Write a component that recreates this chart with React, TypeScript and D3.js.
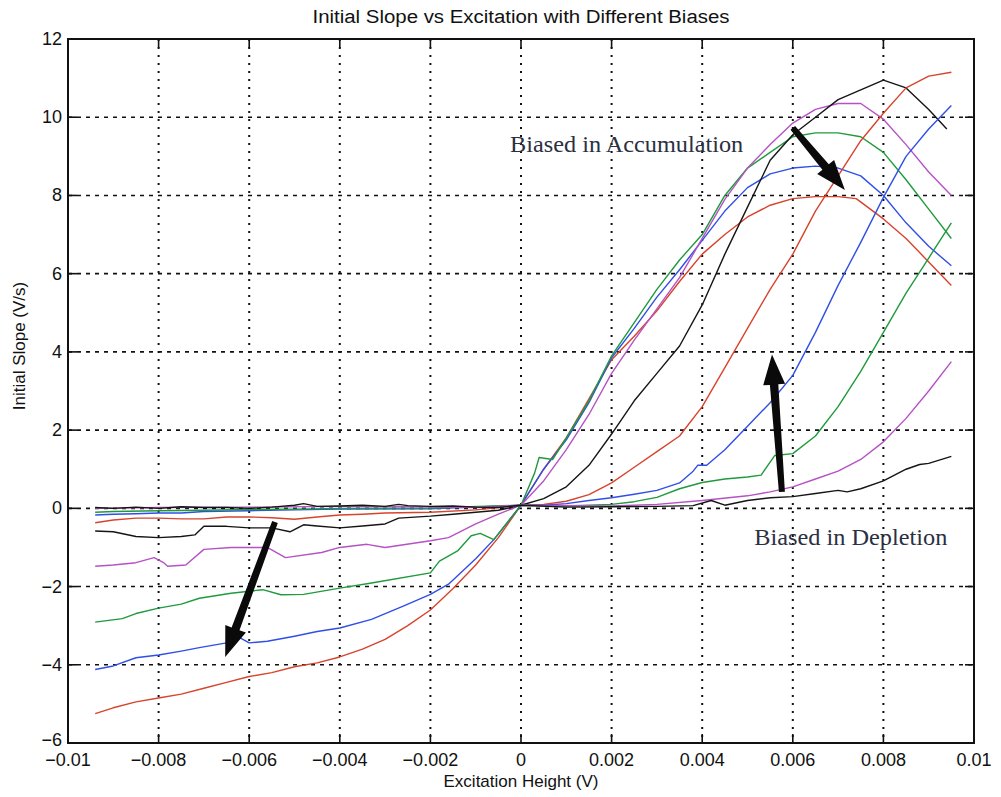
import React from "react";
import * as d3 from "d3";

type Pt = [number, number];

const title = "Initial Slope vs Excitation with Different Biases";
const xLabel = "Excitation Height (V)";
const yLabel = "Initial Slope (V/s)";
const xTicks = [-0.01, -0.008, -0.006, -0.004, -0.002, 0, 0.002, 0.004, 0.006, 0.008, 0.01];
const xTickLabels = ["\u22120.01", "\u22120.008", "\u22120.006", "\u22120.004", "\u22120.002", "0", "0.002", "0.004", "0.006", "0.008", "0.01"];
const yTicks = [-6, -4, -2, 0, 2, 4, 6, 8, 10, 12];
const yTickLabels = ["\u22126", "\u22124", "\u22122", "0", "2", "4", "6", "8", "10", "12"];

// Biased in accumulation
const redAcc: Pt[] = [[-0.0094,-5.25],[-0.009,-5.1],[-0.0085,-4.95],[-0.008,-4.85],[-0.0075,-4.75],[-0.007,-4.6],[-0.0065,-4.45],[-0.006,-4.3],[-0.0055,-4.2],[-0.005,-4.05],[-0.0045,-3.95],[-0.004,-3.8],[-0.0035,-3.6],[-0.003,-3.35],[-0.0025,-3.0],[-0.002,-2.6],[-0.0015,-2.05],[-0.001,-1.45],[-0.0005,-0.75],[0,0.08],[0.0005,1.0],[0.001,1.8],[0.0015,2.8],[0.002,3.8],[0.0025,4.4],[0.003,5.05],[0.0035,5.8],[0.004,6.5],[0.0045,7.0],[0.005,7.45],[0.0055,7.75],[0.006,7.92],[0.0065,7.97],[0.007,7.97],[0.0074,7.92],[0.008,7.4],[0.0085,6.9],[0.009,6.3],[0.0095,5.7]];
const blueAcc: Pt[] = [[-0.0094,-4.12],[-0.009,-4.03],[-0.0085,-3.82],[-0.008,-3.75],[-0.0075,-3.65],[-0.0071,-3.56],[-0.0065,-3.44],[-0.0062,-3.31],[-0.006,-3.44],[-0.0056,-3.4],[-0.005,-3.27],[-0.0045,-3.15],[-0.004,-3.06],[-0.0033,-2.84],[-0.0026,-2.5],[-0.002,-2.2],[-0.0016,-1.94],[-0.001,-1.29],[-0.0006,-0.8],[0,0.08],[0.0005,1.0],[0.001,1.75],[0.0015,2.7],[0.002,3.85],[0.0025,4.6],[0.003,5.4],[0.0035,6.1],[0.004,6.85],[0.0045,7.6],[0.005,8.2],[0.0055,8.55],[0.006,8.7],[0.0065,8.75],[0.007,8.7],[0.0075,8.5],[0.008,8.0],[0.0085,7.3],[0.009,6.7],[0.0095,6.2]];
const greenAcc: Pt[] = [[-0.0094,-2.91],[-0.0088,-2.82],[-0.0085,-2.69],[-0.008,-2.55],[-0.0075,-2.45],[-0.0071,-2.3],[-0.0064,-2.17],[-0.0057,-2.08],[-0.0053,-2.21],[-0.0048,-2.2],[-0.004,-2.04],[-0.0033,-1.91],[-0.002,-1.65],[-0.0018,-1.35],[-0.0014,-1.09],[-0.0011,-0.7],[-0.0009,-0.64],[-0.0006,-0.8],[0,0.08],[0.0003,0.9],[0.0004,1.3],[0.0007,1.25],[0.001,1.8],[0.0015,2.75],[0.002,3.9],[0.0025,4.75],[0.003,5.6],[0.0035,6.35],[0.004,7.0],[0.0045,8.0],[0.005,8.7],[0.0055,9.1],[0.006,9.5],[0.0065,9.6],[0.007,9.6],[0.0075,9.5],[0.008,9.1],[0.0085,8.4],[0.009,7.65],[0.0095,6.9]];
const magentaAcc: Pt[] = [[-0.0094,-1.48],[-0.009,-1.45],[-0.0085,-1.39],[-0.0081,-1.26],[-0.0079,-1.38],[-0.0078,-1.48],[-0.0074,-1.45],[-0.007,-1.05],[-0.0064,-1.0],[-0.0056,-1.0],[-0.0052,-1.26],[-0.0044,-1.13],[-0.004,-1.0],[-0.0034,-0.92],[-0.003,-1.0],[-0.002,-0.83],[-0.0016,-0.75],[-0.001,-0.4],[-0.0005,-0.15],[0,0.08],[0.0005,0.7],[0.001,1.5],[0.0015,2.4],[0.002,3.45],[0.0025,4.3],[0.003,5.1],[0.0035,5.9],[0.004,6.9],[0.0045,7.9],[0.005,8.7],[0.0055,9.3],[0.006,9.85],[0.0065,10.2],[0.007,10.35],[0.0075,10.35],[0.008,9.95],[0.0085,9.3],[0.009,8.6],[0.0095,8.0]];
const blackAcc: Pt[] = [[-0.0094,-0.58],[-0.009,-0.6],[-0.0085,-0.72],[-0.008,-0.75],[-0.0075,-0.72],[-0.0072,-0.68],[-0.007,-0.46],[-0.0065,-0.46],[-0.006,-0.5],[-0.0055,-0.5],[-0.0051,-0.6],[-0.0048,-0.42],[-0.0045,-0.45],[-0.004,-0.5],[-0.0035,-0.45],[-0.003,-0.4],[-0.0027,-0.25],[-0.002,-0.2],[-0.0015,-0.15],[-0.001,-0.1],[-0.0005,-0.05],[0,0.08],[0.0005,0.25],[0.001,0.55],[0.0015,1.1],[0.002,1.9],[0.0025,2.75],[0.003,3.45],[0.0035,4.15],[0.004,5.2],[0.0045,6.5],[0.005,7.7],[0.0055,8.9],[0.006,9.55],[0.0065,10.0],[0.007,10.45],[0.0075,10.7],[0.008,10.95],[0.0085,10.75],[0.009,10.2],[0.0094,9.7]];

// Biased in depletion
const redDep: Pt[] = [[-0.0094,-0.37],[-0.009,-0.3],[-0.0085,-0.25],[-0.008,-0.25],[-0.0075,-0.27],[-0.007,-0.27],[-0.0065,-0.22],[-0.006,-0.22],[-0.0055,-0.24],[-0.005,-0.28],[-0.0045,-0.22],[-0.004,-0.17],[-0.0035,-0.15],[-0.003,-0.12],[-0.002,-0.1],[-0.001,-0.04],[0,0.08],[0.0005,0.1],[0.001,0.18],[0.0015,0.35],[0.002,0.65],[0.0025,1.05],[0.003,1.45],[0.0035,1.85],[0.004,2.6],[0.0045,3.6],[0.005,4.6],[0.0055,5.6],[0.006,6.5],[0.0065,7.6],[0.007,8.5],[0.0075,9.4],[0.008,10.1],[0.0085,10.75],[0.009,11.05],[0.0095,11.15]];
const blueDep: Pt[] = [[-0.0094,-0.17],[-0.009,-0.15],[-0.0085,-0.14],[-0.008,-0.12],[-0.0075,-0.12],[-0.007,-0.08],[-0.006,-0.06],[-0.005,-0.04],[-0.004,-0.02],[-0.002,-0.01],[0,0.08],[0.0005,0.08],[0.001,0.12],[0.0015,0.2],[0.002,0.27],[0.0025,0.36],[0.003,0.46],[0.0035,0.65],[0.0038,0.95],[0.0039,1.1],[0.0041,1.1],[0.0045,1.5],[0.005,2.1],[0.0055,2.7],[0.006,3.4],[0.0065,4.5],[0.007,5.7],[0.0075,6.8],[0.008,7.95],[0.0085,9.0],[0.009,9.7],[0.0095,10.3]];
const greenDep: Pt[] = [[-0.0094,-0.1],[-0.009,-0.08],[-0.008,-0.06],[-0.007,-0.05],[-0.006,-0.03],[-0.005,-0.02],[-0.004,0.0],[-0.002,0.01],[0,0.08],[0.001,0.06],[0.002,0.1],[0.0025,0.17],[0.003,0.28],[0.0035,0.5],[0.004,0.66],[0.0045,0.75],[0.005,0.8],[0.0053,0.85],[0.0056,1.35],[0.006,1.4],[0.0065,1.85],[0.007,2.6],[0.0075,3.5],[0.008,4.5],[0.0085,5.5],[0.009,6.4],[0.0095,7.3]];
const magentaDep: Pt[] = [[-0.0094,0.0],[-0.008,0.02],[-0.006,0.03],[-0.004,0.05],[-0.002,0.04],[-0.001,0.02],[0,0.08],[0.002,0.06],[0.003,0.1],[0.004,0.2],[0.005,0.32],[0.0055,0.42],[0.006,0.55],[0.0065,0.75],[0.007,0.95],[0.0075,1.25],[0.008,1.7],[0.0085,2.3],[0.009,3.0],[0.0095,3.75]];
const blackDep: Pt[] = [[-0.0094,0.02],[-0.009,0.0],[-0.0085,0.03],[-0.008,0.0],[-0.0075,0.04],[-0.007,0.02],[-0.0065,0.02],[-0.006,0.0],[-0.0055,0.03],[-0.005,0.08],[-0.0048,0.12],[-0.0045,0.05],[-0.004,0.06],[-0.0035,0.08],[-0.003,0.05],[-0.0027,0.1],[-0.0025,0.07],[-0.002,0.05],[-0.0015,0.06],[-0.001,0.03],[-0.0005,0.02],[0,0.08],[0.001,0.03],[0.002,0.04],[0.003,0.05],[0.0038,0.07],[0.0042,0.2],[0.0045,0.08],[0.005,0.2],[0.0055,0.27],[0.006,0.3],[0.0065,0.38],[0.007,0.46],[0.0072,0.42],[0.0075,0.5],[0.008,0.7],[0.0085,1.0],[0.0088,1.12],[0.009,1.15],[0.0095,1.33]];

const seriesData: Pt[][] = [redAcc, blueAcc, greenAcc, magentaAcc, blackAcc, redDep, blueDep, greenDep, magentaDep, blackDep];
const seriesColors = ["#d8432c", "#2f4fe6", "#1f9a3c", "#b552c4", "#151515", "#d8432c", "#2f4fe6", "#1f9a3c", "#b552c4", "#151515"];

// annotation arrows: [tailX, tailY, tipX, tipY] in data units
const arrows: [number, number, number, number][] = [
  [0.006, 9.73, 0.00715, 8.14],
  [0.00576, 0.42, 0.00554, 3.93],
  [-0.00543, -0.35, -0.00653, -3.8],
];
// [text, x, y, width in px]
const annotations: [string, number, number, number][] = [
  ["Biased in Accumulation", -0.00024, 9.1, 233],
  ["Biased in Depletion", 0.00515, -0.95, 193],
];

const W = 1001, H = 797;
const L = 68, R = 974, T = 39, B = 743;

export default function App() {
  const x = d3.scaleLinear().domain([-0.01, 0.01]).range([L, R]);
  const y = d3.scaleLinear().domain([-6, 12]).range([B, T]);
  const line = d3.line<Pt>().x(d => x(d[0])).y(d => y(d[1]));

  const arrowPath = (a: [number, number, number, number]) => {
    const x0 = x(a[0]), y0 = y(a[1]), x1 = x(a[2]), y1 = y(a[3]);
    const dx = x1 - x0, dy = y1 - y0, len = Math.hypot(dx, dy);
    const ux = dx / len, uy = dy / len, nx = -uy, ny = ux;
    const hl = 30, hw = 11, sw0 = 3, sw1 = 4.2;
    const bx = x1 - ux * hl, by = y1 - uy * hl;
    const pts = [
      [x0 + nx * sw0, y0 + ny * sw0],
      [bx + nx * sw1, by + ny * sw1],
      [bx + nx * hw, by + ny * hw],
      [x1, y1],
      [bx - nx * hw, by - ny * hw],
      [bx - nx * sw1, by - ny * sw1],
      [x0 - nx * sw0, y0 - ny * sw0],
    ];
    return "M" + pts.map(p => p[0].toFixed(1) + "," + p[1].toFixed(1)).join("L") + "Z";
  };

  const font = "'Liberation Sans', Arial, Helvetica, sans-serif";

  return (
    <svg width={W} height={H} style={{ position: "absolute", left: 0, top: 0, background: "#fff" }}>
      <rect x={0} y={0} width={W} height={H} fill="#fff" />
      {/* grid */}
      {xTicks.slice(1, -1).map((t, i) => (
        <line key={"gx" + i} x1={x(t)} x2={x(t)} y1={T} y2={B} stroke="#111" strokeWidth={2} strokeDasharray="2,6" />
      ))}
      {yTicks.slice(1, -1).map((t, i) => (
        <line key={"gy" + i} x1={L} x2={R} y1={y(t)} y2={y(t)} stroke="#111" strokeWidth={1.6} strokeDasharray="4,5" />
      ))}
      {/* curves */}
      {seriesData.map((s, i) => (
        <path key={"s" + i} d={line(s) || ""} fill="none" stroke={seriesColors[i]} strokeWidth={1.4} strokeLinejoin="round" />
      ))}
      {/* ticks */}
      {xTicks.map((t, i) => (
        <g key={"tx" + i}>
          <line x1={x(t)} x2={x(t)} y1={B} y2={B - 9} stroke="#111" strokeWidth={1.6} />
          <line x1={x(t)} x2={x(t)} y1={T} y2={T + 9} stroke="#111" strokeWidth={1.6} />
          <text x={x(t)} y={B + 23} textAnchor="middle" fontFamily={font} fontSize={18} fill="#111">{xTickLabels[i]}</text>
        </g>
      ))}
      {yTicks.map((t, i) => (
        <g key={"ty" + i}>
          <line x1={L} x2={L + 9} y1={y(t)} y2={y(t)} stroke="#111" strokeWidth={1.6} />
          <line x1={R} x2={R - 9} y1={y(t)} y2={y(t)} stroke="#111" strokeWidth={1.6} />
          <text x={L - 6} y={y(t) + (t === -6 ? 3 : 6)} textAnchor="end" fontFamily={font} fontSize={18} fill="#111">{yTickLabels[i]}</text>
        </g>
      ))}
      <rect x={L} y={T} width={R - L} height={B - T} fill="none" stroke="#111" strokeWidth={2} />
      {/* arrows */}
      {arrows.map((a, i) => (
        <path key={"a" + i} d={arrowPath(a)} fill="#0a0a0a" />
      ))}
      {/* annotations */}
      {annotations.map((a, i) => (
        <text key={"n" + i} x={x(a[1])} y={y(a[2])} fontFamily="'Liberation Serif', 'Times New Roman', serif" fontSize={23}
          textLength={a[3]} lengthAdjust="spacingAndGlyphs" fill="#2a3042">{a[0]}</text>
      ))}
      {/* labels */}
      <text x={(L + R) / 2} y={23} textAnchor="middle" fontFamily={font} fontSize={18} textLength={417} lengthAdjust="spacingAndGlyphs" fill="#111">{title}</text>
      <text x={(L + R) / 2} y={787} textAnchor="middle" fontFamily={font} fontSize={17} fill="#111">{xLabel}</text>
      <text transform={`translate(25,${(T + B) / 2 - 45}) rotate(-90)`} textAnchor="middle" fontFamily={font} fontSize={17} fill="#111">{yLabel}</text>
    </svg>
  );
}
